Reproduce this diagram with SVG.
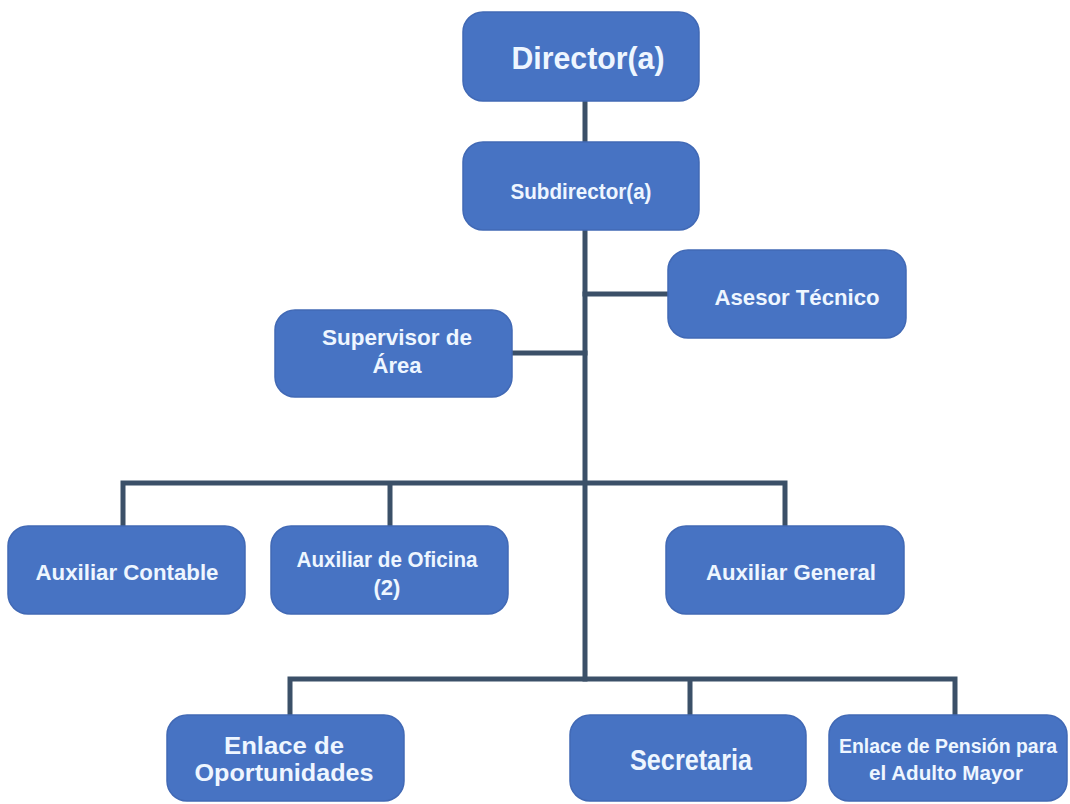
<svg xmlns="http://www.w3.org/2000/svg" width="1070" height="804" viewBox="0 0 1070 804">
<style>
.box{fill:#4773c3;stroke:#4169b5;stroke-width:1.5}
.t{font-family:"Liberation Sans",Arial,sans-serif;font-weight:bold;fill:#eef6ff;text-anchor:middle}
.c{stroke:#3b5068;stroke-width:5;fill:none;stroke-linecap:square}
</style>
<rect width="1070" height="804" fill="#ffffff"/>
<g id="connectors">
<path class="c" d="M585 101V679"/>
<path class="c" d="M585 294H668"/>
<path class="c" d="M512 353H585"/>
<path class="c" d="M123 526V483H785V526M390 483V526"/>
<path class="c" d="M290 715V679H955V715M690 679V715"/>
</g>
<g id="director">
<rect class="box" x="463" y="12" width="236" height="89" rx="20"/>
<text class="t" x="588" y="69" font-size="31" textLength="153" lengthAdjust="spacingAndGlyphs">Director(a)</text>
</g>
<g id="subdirector">
<rect class="box" x="463" y="142" width="236" height="88" rx="20"/>
<text class="t" x="581" y="199" font-size="22" textLength="141" lengthAdjust="spacingAndGlyphs">Subdirector(a)</text>
</g>
<g id="asesor">
<rect class="box" x="668" y="250" width="238" height="88" rx="20"/>
<text class="t" x="797" y="305" font-size="22" textLength="165" lengthAdjust="spacingAndGlyphs">Asesor Técnico</text>
</g>
<g id="supervisor">
<rect class="box" x="275" y="310" width="237" height="87" rx="20"/>
<text class="t" x="397" y="345" font-size="22" textLength="150" lengthAdjust="spacingAndGlyphs">Supervisor de</text>
<text class="t" x="397" y="373" font-size="22">Área</text>
</g>
<g id="aux-contable">
<rect class="box" x="8" y="526" width="237" height="88" rx="20"/>
<text class="t" x="127" y="580" font-size="22" textLength="183" lengthAdjust="spacingAndGlyphs">Auxiliar Contable</text>
</g>
<g id="aux-oficina">
<rect class="box" x="271" y="526" width="237" height="88" rx="20"/>
<text class="t" x="387" y="567" font-size="22" textLength="181" lengthAdjust="spacingAndGlyphs">Auxiliar de Oficina</text>
<text class="t" x="387" y="595" font-size="22">(2)</text>
</g>
<g id="aux-general">
<rect class="box" x="666" y="526" width="238" height="88" rx="20"/>
<text class="t" x="791" y="580" font-size="22" textLength="170" lengthAdjust="spacingAndGlyphs">Auxiliar General</text>
</g>
<g id="enlace-oportunidades">
<rect class="box" x="167" y="715" width="237" height="86" rx="20"/>
<text class="t" x="284" y="754" font-size="24" textLength="120" lengthAdjust="spacingAndGlyphs">Enlace de</text>
<text class="t" x="284" y="781" font-size="24" textLength="179" lengthAdjust="spacingAndGlyphs">Oportunidades</text>
</g>
<g id="secretaria">
<rect class="box" x="570" y="715" width="236" height="86" rx="20"/>
<text class="t" x="691" y="770" font-size="30" textLength="122" lengthAdjust="spacingAndGlyphs">Secretaria</text>
</g>
<g id="enlace-pension">
<rect class="box" x="829" y="715" width="238" height="86" rx="20"/>
<text class="t" x="948" y="753" font-size="20" textLength="218" lengthAdjust="spacingAndGlyphs">Enlace de Pensión para</text>
<text class="t" x="946" y="780" font-size="20" textLength="154" lengthAdjust="spacingAndGlyphs">el Adulto Mayor</text>
</g>
</svg>
